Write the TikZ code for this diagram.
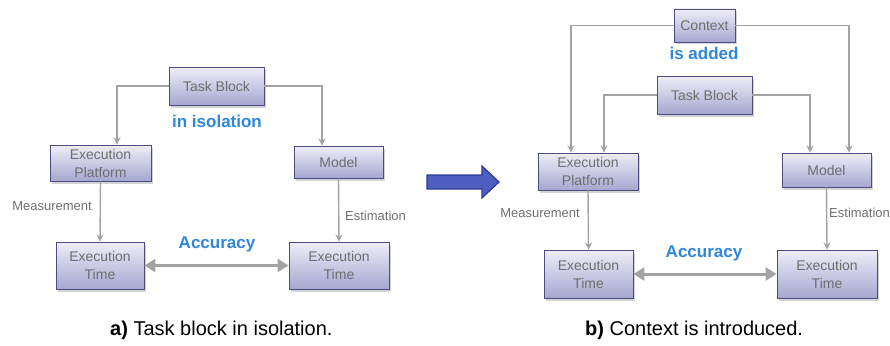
\documentclass[tikz,border=0pt]{standalone}
\usepackage{fontspec}
\setmainfont{Liberation Sans}
\usetikzlibrary{arrows.meta,shadows}
\definecolor{boxtop}{HTML}{EEEEF8}
\definecolor{boxbot}{HTML}{A6A6D0}
\definecolor{boxedge}{HTML}{4C4C82}
\definecolor{boxtext}{HTML}{6E6E6E}
\definecolor{conn}{HTML}{A3A3A3}
\definecolor{accent}{HTML}{2E86DE}
\definecolor{bigfill}{HTML}{4F5EC0}
\definecolor{bigedge}{HTML}{2B3994}
\begin{document}
\begin{tikzpicture}[x=1pt,y=-1pt,
  blk/.style={draw=boxedge, line width=0.9pt, top color=boxtop, bottom color=boxbot,
    text=boxtext, font=\fontsize{14}{18}\selectfont, align=center, inner sep=0pt,
    drop shadow={opacity=0.35, shadow xshift=2pt, shadow yshift=-2.5pt}},
  connline/.style={draw=conn, line width=1.4pt, -{Stealth[length=7pt,width=7pt,inset=2pt]}},
  accarrow/.style={draw=conn, line width=3pt, {Triangle[length=11pt,width=13pt]}-{Triangle[length=11pt,width=13pt]}},
  lbl/.style={text=boxtext, font=\fontsize{13}{15}\selectfont, inner sep=0pt},
  hl/.style={text=accent, font=\bfseries\fontsize{17}{20}\selectfont, inner sep=0pt},
  captext/.style={text=black, font=\fontsize{20}{24}\selectfont, inner sep=0pt, anchor=west}
]
\useasboundingbox (0,0) rectangle (890,345);

% ---------- left panel ----------
\node[blk, minimum width=95pt, minimum height=38pt] (TB1) at (216.5,86) {Task Block};
\node[blk, minimum width=101pt, minimum height=36pt] (EP1) at (100.5,163) {Execution\\Platform};
\node[blk, minimum width=89pt, minimum height=32pt] (M1) at (338.5,162) {Model};
\node[blk, minimum width=88pt, minimum height=47pt] (ET1a) at (100,265.5) {Execution\\Time};
\node[blk, minimum width=100pt, minimum height=47pt] (ET1b) at (339,265.5) {Execution\\Time};

\node[hl] (iso) at (217,121) {in isolation};
\node[hl] (acc1) at (217,244) {Accuracy};
\node[lbl, anchor=east] (meas1) at (92,206) {Measurement};
\node[lbl, anchor=west] (est1) at (345,216) {Estimation};

\draw[connline] (TB1.west) -| ([xshift=16.5pt]EP1.north);
\draw[connline] (TB1.east) -| ([xshift=-16.5pt]M1.north);
\draw[connline] (EP1.south) -- (ET1a.north);
\draw[connline] (M1.south) -- (ET1b.north);
\draw[accarrow] (ET1a.east) -- (ET1b.west);

% ---------- big arrow ----------
\filldraw[fill=bigfill, draw=bigedge, line width=1.2pt, line join=miter]
  (427,175) -- (482,175) -- (482,166) -- (499,182) -- (482,198) -- (482,189) -- (427,189) -- cycle;

% ---------- right panel ----------
\node[blk, minimum width=61pt, minimum height=33pt] (C2) at (704.5,25.5) {Context};
\node[blk, minimum width=95pt, minimum height=38pt] (TB2) at (704.5,95) {Task Block};
\node[blk, minimum width=100pt, minimum height=37pt] (EP2) at (588,171.5) {Execution\\Platform};
\node[blk, minimum width=89pt, minimum height=34pt] (M2) at (826.5,170) {Model};
\node[blk, minimum width=89pt, minimum height=48pt] (ET2a) at (588.5,274) {Execution\\Time};
\node[blk, minimum width=100pt, minimum height=48pt] (ET2b) at (827,274) {Execution\\Time};

\node[hl] (added) at (704,53) {is added};
\node[hl] (acc2) at (704,253) {Accuracy};
\node[lbl, anchor=east] (meas2) at (580,213) {Measurement};
\node[lbl, anchor=west] (est2) at (829,213) {Estimation};

\draw[connline] (C2.west) -| ([xshift=-17pt]EP2.north);
\draw[connline] (C2.east) -| ([xshift=22.5pt]M2.north);
\draw[connline] (TB2.west) -| ([xshift=16pt]EP2.north);
\draw[connline] (TB2.east) -| ([xshift=-16.5pt]M2.north);
\draw[connline] (EP2.south) -- (ET2a.north);
\draw[connline] (M2.south) -- (ET2b.north);
\draw[accarrow] (ET2a.east) -- (ET2b.west);

% ---------- captions ----------
\node[captext] (capa) at (110,330) {\textbf{a)} Task block in isolation.};
\node[captext] (capb) at (585,330) {\textbf{b)} Context is introduced.};
\end{tikzpicture}
\end{document}
